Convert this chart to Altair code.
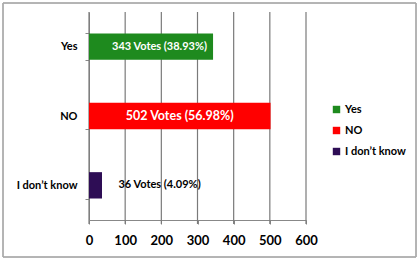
import altair as alt
import pandas as pd

answers = ["Yes", "NO", "I don\u2019t know"]
votes = [343, 502, 36]
labels = ["343 Votes (38.93%)", "502 Votes (56.98%)", "36 Votes (4.09%)"]
colors = ["#1e8a1e", "#ff0000", "#2e0d55"]
x_ticks = [0, 100, 200, 300, 400, 500, 600]

df = pd.DataFrame({"answer": answers, "votes": votes, "label": labels})
ticks_df = pd.DataFrame({"tick": x_ticks})

FONT = "Lato"
color_scale = alt.Scale(domain=answers, range=colors)
x_scale = alt.Scale(domain=[0, 600], nice=False)
y_scale = alt.Scale(paddingInner=0.62, paddingOuter=0.31)

grid = alt.Chart(ticks_df).mark_rule(color="#7a7a7a", strokeWidth=1.2, opacity=1).encode(
    x=alt.X("tick:Q", title=None, scale=x_scale),
    y=alt.value(0), y2=alt.value(212),
)

bars = alt.Chart(df).mark_bar().encode(
    x=alt.X("votes:Q", title=None, scale=x_scale),
    y=alt.Y("answer:N", sort=answers, title=None, scale=y_scale),
    color=alt.Color("answer:N", scale=color_scale, sort=answers,
                    legend=alt.Legend(title=None, orient="none", legendX=242, legendY=92,
                                      symbolType="square", symbolSize=55,
                                      symbolStrokeWidth=0, labelFont=FONT,
                                      labelFontSize=11, labelFontWeight="bold",
                                      labelColor="#000000", rowPadding=9,
                                      labelOffset=3)),
)

text = alt.Chart(df).transform_calculate(
    pos="max(datum.votes / 2, 195)",
    fs="datum.answer == 'NO' ? 12.5 : 11",
).mark_text(font=FONT, fontWeight="bold").encode(
    x=alt.X("pos:Q", title=None, scale=x_scale),
    y=alt.Y("answer:N", sort=answers, title=None, scale=y_scale),
    text="label:N",
    size=alt.Size("fs:Q", scale=None, legend=None),
    color=alt.condition("datum.votes > 100", alt.value("#ffffff"), alt.value("#000000")),
)

frame = alt.Chart(df).mark_rect(filled=False, stroke="#aaaaaa", strokeWidth=1).encode(
    x=alt.value(-86), x2=alt.value(327), y=alt.value(-9), y2=alt.value(245),
)

chart = alt.layer(grid, bars, text, frame).properties(
    width=217, height=208,
    background="#ffffff",
    padding={"left": 89, "top": 12, "right": 114, "bottom": 40},
    autosize=alt.AutoSizeParams(type="none"),
).configure_view(strokeWidth=0).configure_axis(
    tickColor="#888888", domainColor="#888888", grid=False,
    tickSize=4, labelFont=FONT, labelFontWeight="bold", labelColor="#000000",
    domainWidth=1,
).configure_axisX(
    values=x_ticks, labelFontSize=13, labelPadding=10, labelFlush=False,
).configure_axisY(
    tickBand="extent", labelFontSize=11, labelPadding=8,
)

chart.save("out.html", embed_options={"renderer": "svg", "actions": False})
